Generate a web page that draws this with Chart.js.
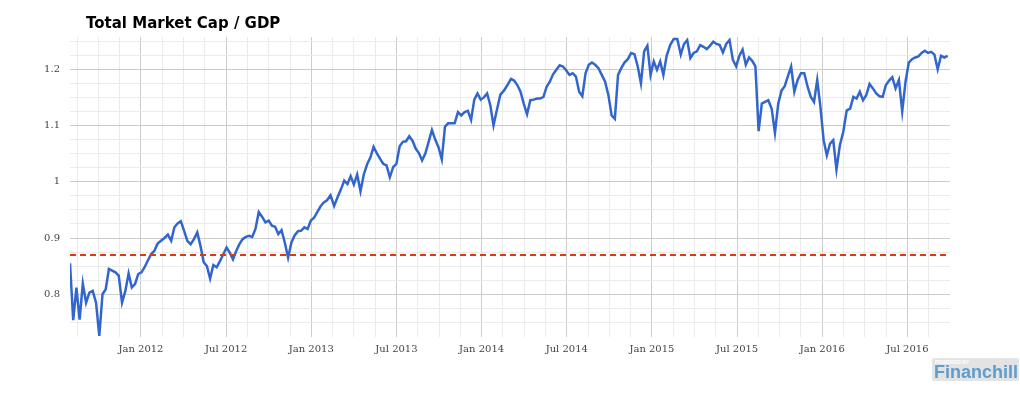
<!DOCTYPE html>
<html>
<head>
<meta charset="utf-8">
<script src="https://cdn.jsdelivr.net/npm/chart.js@4.4.1/dist/chart.umd.min.js"></script>
<style>
  html, body { margin: 0; padding: 0; background: #fff; }
  #wrap { position: relative; width: 1020px; height: 409px; }
  #title {
    position: absolute; left: 86px; top: 16px;
    font: bold 15px/15px "DejaVu Sans", sans-serif; color: #000;
  }
  #badge {
    position: absolute; left: 932px; top: 358px; width: 87px; height: 23px;
    background: #e3e3e3; border-radius: 2px; overflow: hidden;
  }
  #badge .pb {
    position: absolute; left: 3px; top: 2px;
    font: bold 5px/5px "Liberation Sans", Arial, sans-serif; color: #fff;
  }
  #badge .fn {
    position: absolute; left: 2px; top: 5px;
    font: bold 18px/18px "Liberation Sans", Arial, sans-serif; color: #5e9dcd;
  }
</style>
</head>
<body>
<div id="wrap">
  <canvas id="chart" width="1020" height="409"></canvas>
  <div id="title">Total Market Cap / GDP</div>
  <div id="badge"><span class="pb">POWERED BY</span><span class="fn">Financhill</span></div>
</div>
<script>
// weekly readings, first one on 1 Aug 2011
const startDate = Date.UTC(2011, 7, 1);
const weekMs = 7 * 24 * 3600 * 1000;

const marketCapToGdp = [
  0.855, 0.754, 0.812, 0.755, 0.819, 0.785, 0.803, 0.806, 0.785, 0.726,
  0.800, 0.809, 0.845, 0.842, 0.839, 0.833, 0.785, 0.806, 0.837, 0.812,
  0.818, 0.836, 0.839, 0.848, 0.860, 0.871, 0.877, 0.890, 0.895, 0.900,
  0.906, 0.895, 0.919, 0.926, 0.930, 0.913, 0.895, 0.889, 0.898, 0.910,
  0.886, 0.857, 0.850, 0.828, 0.852, 0.848, 0.859, 0.871, 0.883, 0.874,
  0.862, 0.877, 0.889, 0.898, 0.902, 0.904, 0.902, 0.916, 0.946, 0.938,
  0.928, 0.931, 0.922, 0.920, 0.907, 0.914, 0.892, 0.865, 0.892, 0.905,
  0.912, 0.913, 0.919, 0.916, 0.931, 0.936, 0.946, 0.956, 0.963, 0.967,
  0.976, 0.957, 0.973, 0.987, 1.002, 0.996, 1.010, 0.995, 1.013, 0.983,
  1.013, 1.031, 1.043, 1.062, 1.051, 1.041, 1.032, 1.029, 1.008, 1.026,
  1.032, 1.063, 1.071, 1.072, 1.081, 1.073, 1.059, 1.051, 1.038, 1.050,
  1.071, 1.092, 1.075, 1.061, 1.040, 1.098, 1.104, 1.104, 1.104, 1.124,
  1.118, 1.124, 1.126, 1.110, 1.146, 1.157, 1.146, 1.150, 1.157, 1.136,
  1.100, 1.127, 1.155, 1.162, 1.172, 1.183, 1.180, 1.172, 1.160, 1.139,
  1.120, 1.145, 1.146, 1.148, 1.148, 1.151, 1.169, 1.178, 1.191, 1.199,
  1.207, 1.205, 1.198, 1.190, 1.193, 1.187, 1.160, 1.152, 1.193, 1.208,
  1.212, 1.208, 1.202, 1.190, 1.178, 1.154, 1.118, 1.112, 1.190, 1.202,
  1.212, 1.218, 1.229, 1.227, 1.205, 1.175, 1.232, 1.242, 1.190, 1.214,
  1.199, 1.214, 1.190, 1.224, 1.243, 1.254, 1.254, 1.226, 1.245, 1.252,
  1.220, 1.229, 1.232, 1.243, 1.240, 1.236, 1.242, 1.249, 1.245, 1.243,
  1.230, 1.245, 1.252, 1.217, 1.205, 1.224, 1.235, 1.208, 1.221, 1.215,
  1.205, 1.090, 1.139, 1.142, 1.145, 1.130, 1.087, 1.139, 1.162, 1.170,
  1.188, 1.205, 1.160, 1.181, 1.193, 1.193, 1.169, 1.151, 1.142, 1.181,
  1.133, 1.074, 1.047, 1.068, 1.074, 1.022, 1.065, 1.089, 1.127, 1.130,
  1.151, 1.148, 1.160, 1.145, 1.154, 1.174, 1.166, 1.157, 1.152, 1.151,
  1.172, 1.180, 1.186, 1.166, 1.181, 1.125, 1.178, 1.212, 1.218, 1.221,
  1.223, 1.229, 1.233, 1.229, 1.231, 1.226, 1.200, 1.224, 1.221, 1.224
];
const benchmark = 0.87;

// months counted from Jan 2012
const xTickMonths = [0, 6, 12, 18, 24, 30, 36, 42, 48, 54];
const xTickLabels = ['Jan 2012', 'Jul 2012', 'Jan 2013', 'Jul 2013', 'Jan 2014',
                     'Jul 2014', 'Jan 2015', 'Jul 2015', 'Jan 2016', 'Jul 2016'];
const yTickValues = [0.8, 0.9, 1.0, 1.1, 1.2];
const yTickLabels = ['0.8', '0.9', '1', '1.1', '1.2'];

function toMonths(ms) {
    const d = new Date(ms);
    const y = d.getUTCFullYear(), m = d.getUTCMonth();
    const dim = new Date(Date.UTC(y, m + 1, 0)).getUTCDate();
    return (y - 2012) * 12 + m + (d.getUTCDate() - 1) / dim;
}

const points = marketCapToGdp.map((v, i) => ({ x: toMonths(startDate + i * weekMs), y: v }));
const xMin = -5, xMax = 57;

function yMajorIndex(v) {
    return yTickValues.findIndex(t => Math.abs(t - v) < 1e-6);
}

const tickFont = { family: 'DejaVu Serif', size: 10 };

new Chart(document.getElementById('chart').getContext('2d'), {
    type: 'line',
    data: {
        datasets: [{
            data: [{ x: xMin, y: benchmark }, { x: xMax, y: benchmark }],
            borderColor: '#dc3912',
            borderWidth: 2,
            borderDash: [6, 4],
            pointRadius: 0,
            order: 0
        }, {
            data: points,
            borderColor: '#3366cc',
            borderWidth: 2.5,
            pointRadius: 0,
            tension: 0,
            order: 1
        }]
    },
    options: {
        responsive: false,
        animation: false,
        devicePixelRatio: 1,
        layout: { padding: { top: 37, right: 70, bottom: 0, left: 0 } },
        plugins: { legend: { display: false }, tooltip: { enabled: false } },
        scales: {
            x: {
                type: 'linear',
                min: xMin,
                max: xMax,
                afterBuildTicks: s => {
                    s.ticks = [];
                    for (let m = -4.5; m < xMax; m += 1.5) s.ticks.push({ value: m });
                },
                afterFit: s => { s.height = 72; },
                border: { display: false },
                grid: {
                    drawTicks: false,
                    tickLength: 0,
                    color: c => (c.tick && xTickMonths.includes(c.tick.value)) ? '#cccccc' : '#ebebeb'
                },
                ticks: {
                    autoSkip: false,
                    maxRotation: 0,
                    padding: 6,
                    color: '#444',
                    font: tickFont,
                    callback: v => {
                        const i = xTickMonths.indexOf(v);
                        return i >= 0 ? xTickLabels[i] : '';
                    }
                }
            },
            y: {
                min: 0.724,
                max: 1.2574,
                afterBuildTicks: s => {
                    s.ticks = [];
                    for (let i = 0; i <= 20; i++) s.ticks.push({ value: Math.round((0.75 + i * 0.025) * 1000) / 1000 });
                },
                afterFit: s => { s.width = 70; },
                border: { display: false },
                grid: {
                    drawTicks: false,
                    tickLength: 0,
                    color: c => (c.tick && yMajorIndex(c.tick.value) >= 0) ? '#cccccc' : '#ebebeb'
                },
                ticks: {
                    autoSkip: false,
                    padding: 10,
                    color: '#444',
                    font: tickFont,
                    callback: v => {
                        const i = yMajorIndex(v);
                        return i >= 0 ? yTickLabels[i] : '';
                    }
                }
            }
        }
    }
});
</script>
</body>
</html>
